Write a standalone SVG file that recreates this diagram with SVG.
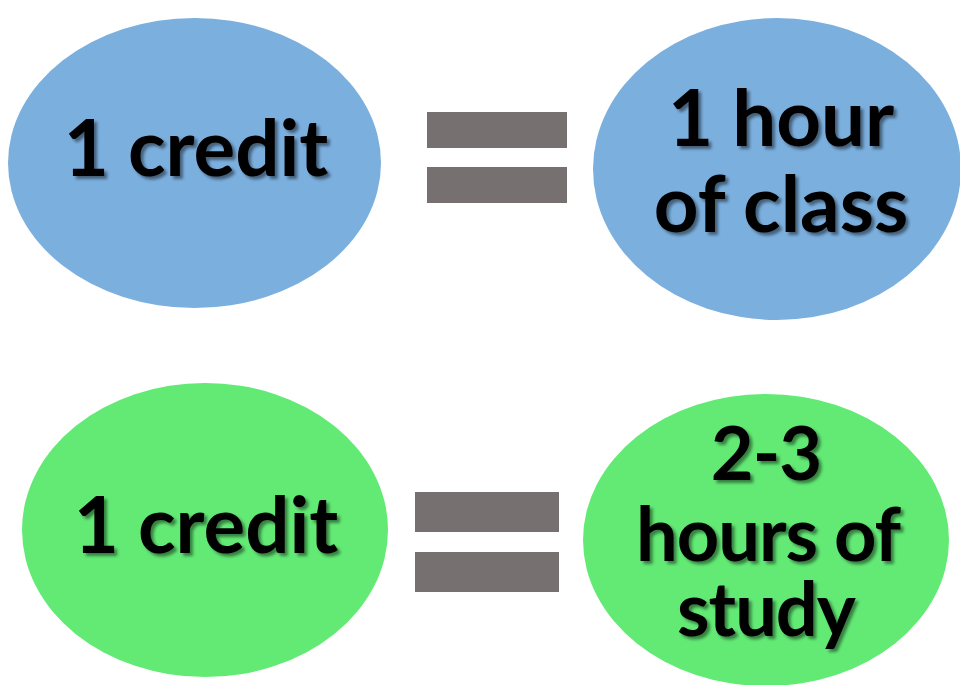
<svg xmlns="http://www.w3.org/2000/svg" width="960" height="685" viewBox="0 0 960 685">
<defs>
<style>
.blue{fill:#7bafde}
.green{fill:#62ea75}
.eq{fill:#767170}
.t{font-family:Lato,"Open Sans","Liberation Sans",sans-serif;font-weight:bold;font-size:78px;fill:#000;text-anchor:middle;filter:url(#sh)}
.s{font-size:74px;letter-spacing:-1px}
</style>
<filter id="sh" x="-10%" y="-20%" width="130%" height="150%">
<feGaussianBlur in="SourceAlpha" stdDeviation="1.5"/>
<feOffset dx="3" dy="3" result="b"/>
<feFlood flood-color="#000" flood-opacity="0.45"/>
<feComposite in2="b" operator="in"/>
<feMerge><feMergeNode/><feMergeNode in="SourceGraphic"/></feMerge>
</filter>
</defs>
<rect width="960" height="685" fill="#fff"/>
<g id="credit-top">
<ellipse class="blue" cx="194.5" cy="163" rx="186.5" ry="145"/>
<text class="t" x="196" y="176">1 credit</text>
</g>
<g id="class-hour">
<ellipse class="blue" cx="777" cy="169" rx="184" ry="151"/>
<text class="t" x="781" y="146">1 hour</text>
<text class="t" x="781" y="232">of class</text>
</g>
<g id="credit-bottom">
<ellipse class="green" cx="205" cy="530" rx="183" ry="147"/>
<text class="t" x="206" y="553">1 credit</text>
</g>
<g id="study-hours">
<ellipse class="green" cx="766" cy="540" rx="183" ry="146"/>
<text class="t s" x="766" y="480">2-3</text>
<text class="t s" x="768" y="561">hours of</text>
<text class="t s" x="766" y="636">study</text>
</g>
<g id="connectors">
<rect class="eq" x="427" y="112" width="140" height="36"/>
<rect class="eq" x="427" y="167" width="140" height="36"/>
<rect class="eq" x="415" y="492" width="144" height="40"/>
<rect class="eq" x="415" y="552" width="144" height="40"/>
</g>
</svg>
